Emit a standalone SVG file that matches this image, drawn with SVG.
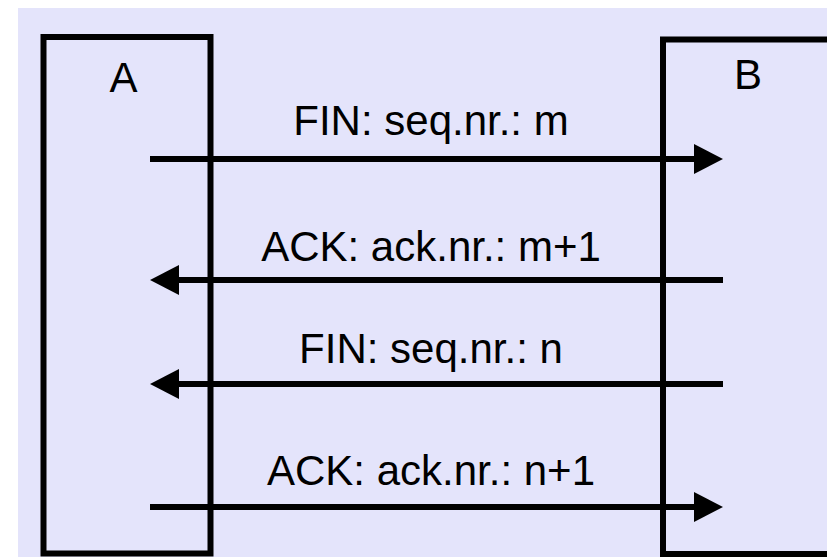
<svg xmlns="http://www.w3.org/2000/svg" width="827" height="557" viewBox="0 0 827 557">
<defs>
<style>
.box{fill:none;stroke:#000;stroke-width:6}
.msg{stroke:#000;stroke-width:6;fill:none;marker-end:url(#ah)}
text{font-family:"Liberation Sans",Arial,sans-serif;font-size:42px;fill:#000;text-anchor:middle}
</style>
<marker id="ah" markerUnits="userSpaceOnUse" markerWidth="30" markerHeight="30" refX="0" refY="15" orient="auto" viewBox="0 0 30 30">
<path d="M0,0 L29,15 L0,30 z" fill="#000"/>
</marker>
</defs>
<rect x="0" y="0" width="827" height="557" fill="#fff"/>
<rect x="18" y="8" width="809" height="549" fill="#e4e4fb"/>
<g id="nodeA">
<rect class="box" x="43.5" y="37" width="167" height="516.5"/>
<text x="123.5" y="92">A</text>
</g>
<g id="nodeB">
<rect class="box" x="663" y="39.5" width="200" height="514.5"/>
<text x="748" y="89">B</text>
</g>
<g id="connectors">
<line class="msg" x1="150" y1="159" x2="694" y2="159"/>
<line class="msg" x1="723" y1="280" x2="179" y2="280"/>
<line class="msg" x1="723" y1="384" x2="179" y2="384"/>
<line class="msg" x1="150" y1="507" x2="694" y2="507"/>
<text x="431" y="135">FIN: seq.nr.: m</text>
<text x="431" y="260.5">ACK: ack.nr.: m+1</text>
<text x="431" y="363">FIN: seq.nr.: n</text>
<text x="431" y="485">ACK: ack.nr.: n+1</text>
</g>
</svg>
